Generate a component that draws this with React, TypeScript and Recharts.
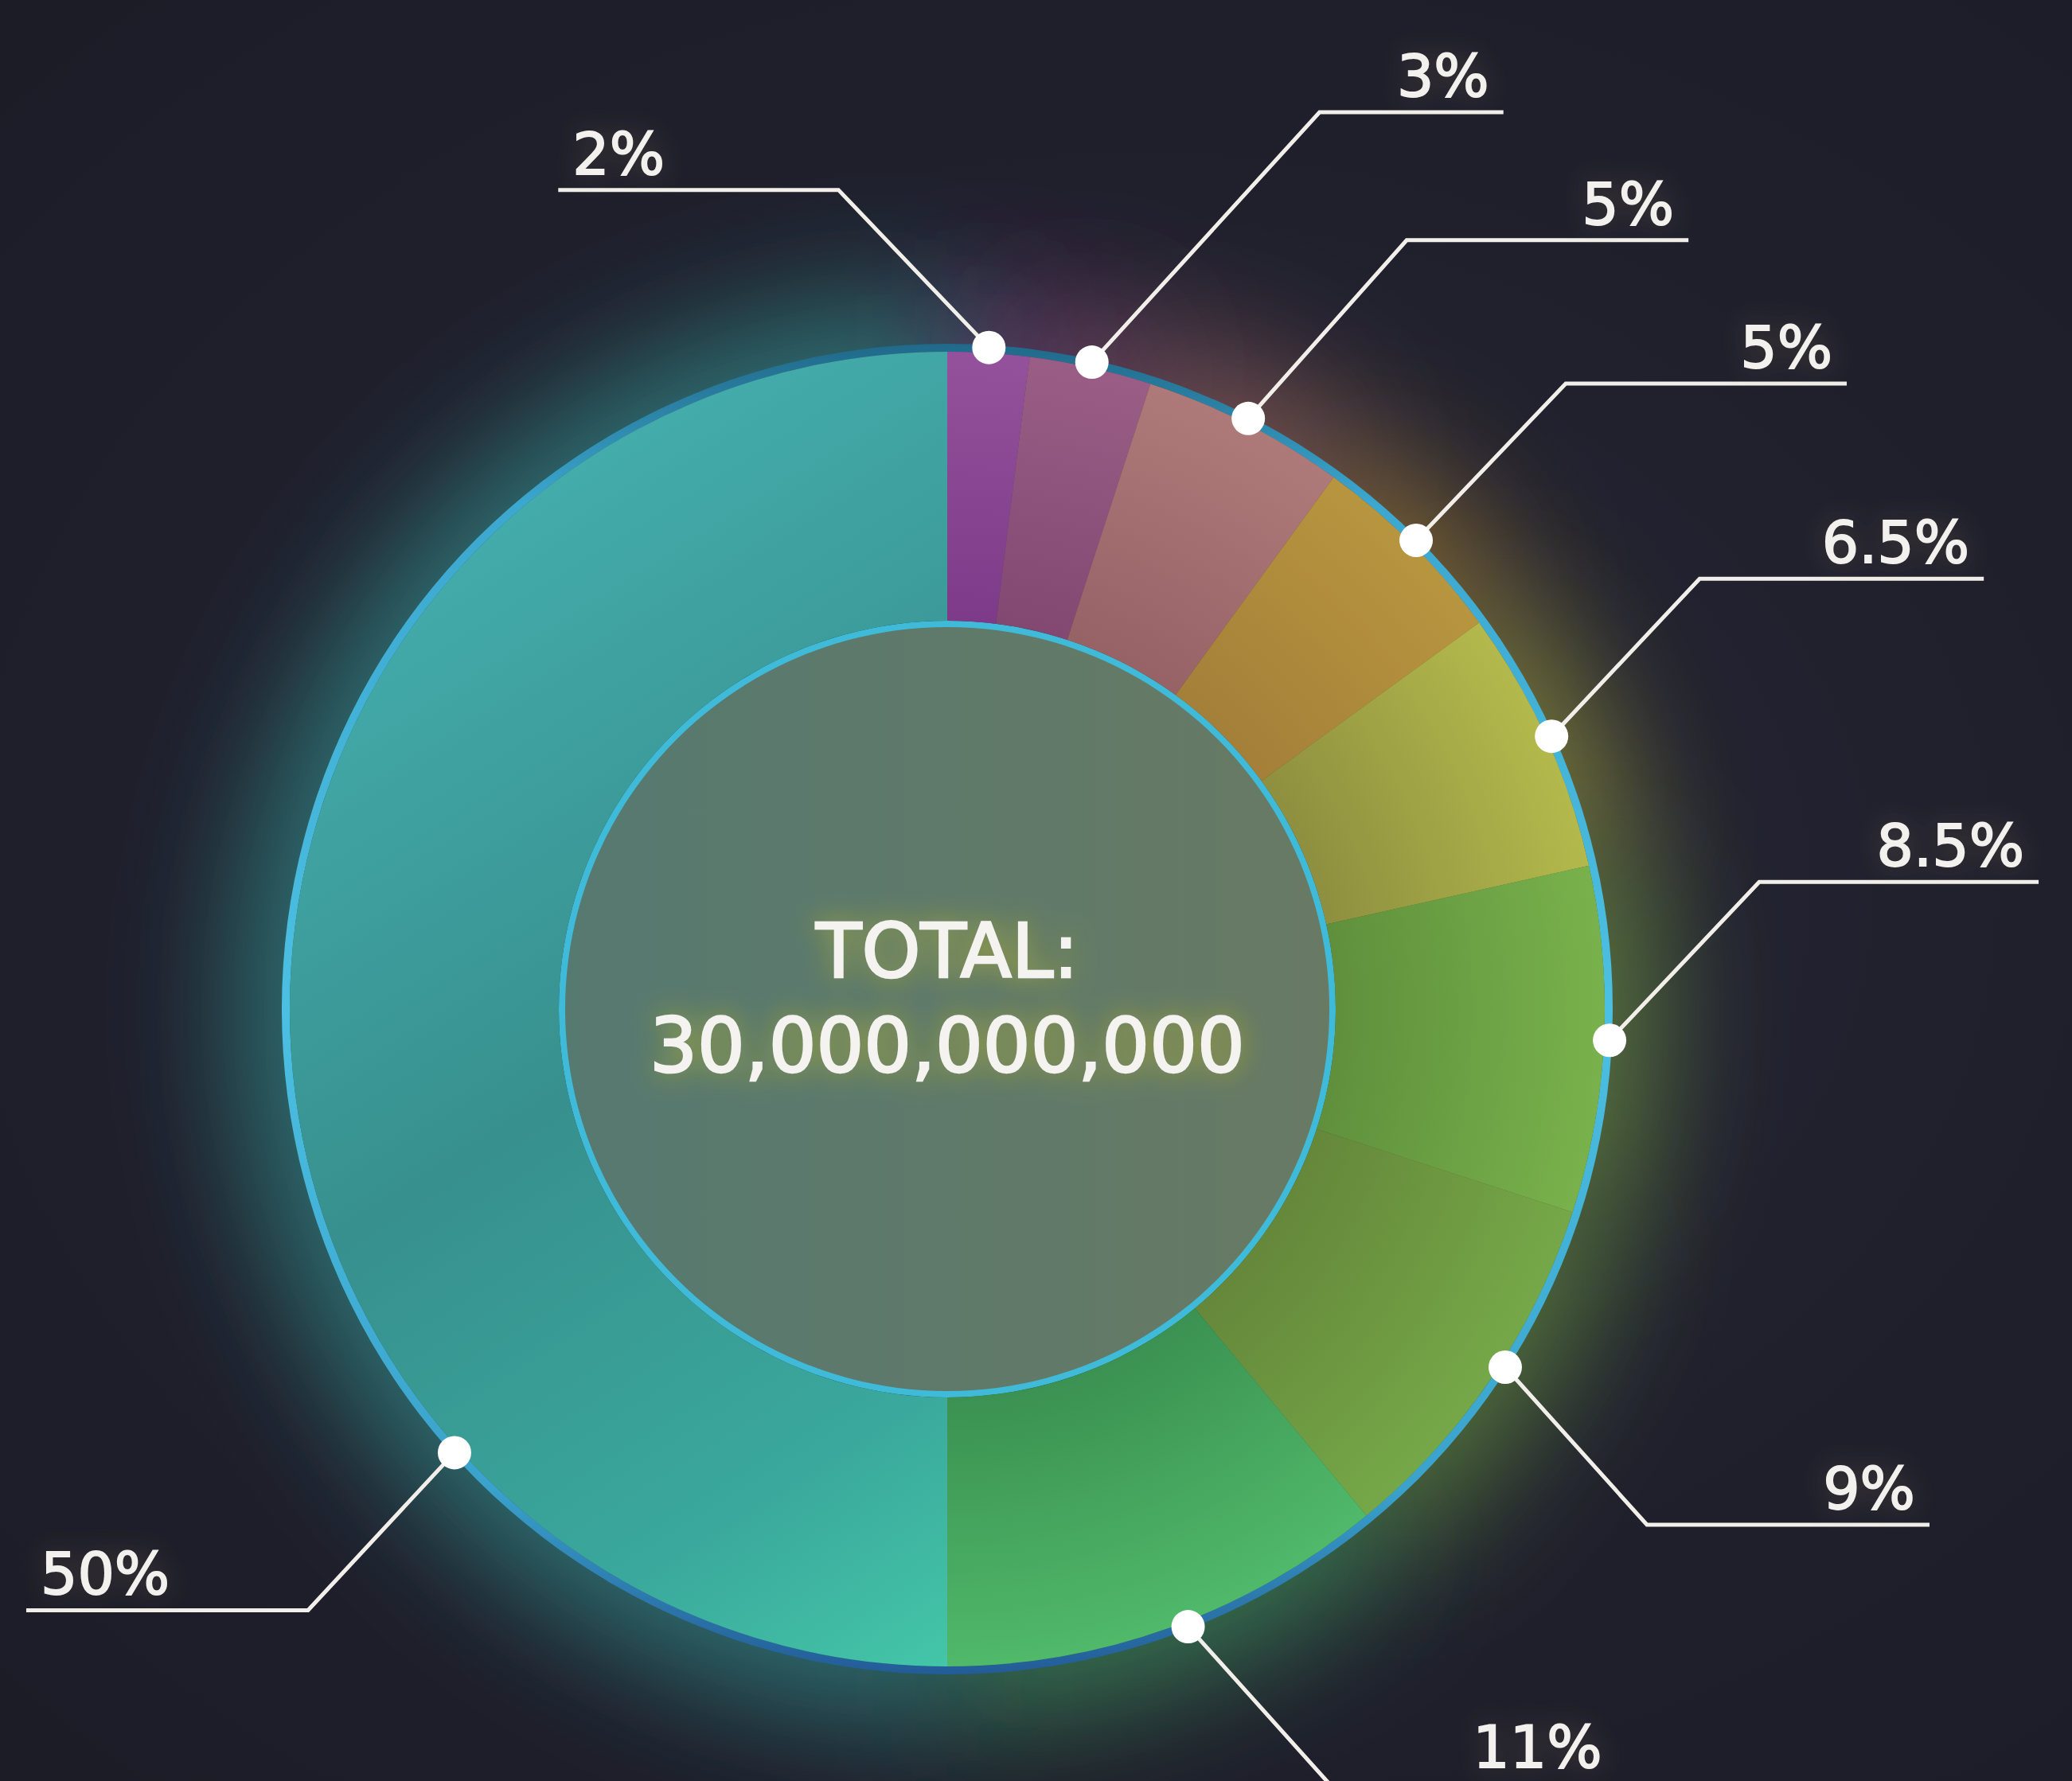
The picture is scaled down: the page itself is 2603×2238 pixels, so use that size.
import { PieChart, Pie, Cell } from "recharts";

// slice shares (percent), clockwise from 12 o'clock
const shares = [2, 3, 5, 5, 6.5, 8.5, 9, 11, 50];
const shareLabels = ["2%", "3%", "5%", "5%", "6.5%", "8.5%", "9%", "11%", "50%"];
const totalCaption = "TOTAL:";
const totalAmount = "30,000,000,000";
const fullRing = [{ value: 1 }];

const data = shares.map((v, i) => ({ name: shareLabels[i], value: v }));

// ---- layout / style ----
const W = 2603;
const H = 2238;
const CX = 1190;
const CY = 1268;
const R_IN = 484;
const R_OUT = 828;
const RAD = Math.PI / 180;

const innerColors = ["#7d3a88", "#824872", "#976266", "#a47f39", "#8e8f3f", "#5f8f3c", "#65873a", "#3b9151"];
const outerColors = ["#94529c", "#9a5e86", "#ae7a79", "#b8953f", "#b4b94c", "#79b24c", "#75a848", "#50b96a"];
const glowColors = ["#a04aa8", "#a45a88", "#c07a70", "#c99a3a", "#c0c040", "#8cc04a", "#7cb848", "#4cc070", "#3ab8b0"];

// leader line per slice: [elbow dx, elbow dy, horizontal run, anchor angle shift]
const leaders = [
  [-189, -198, -352, 0],
  [286, -314, 231, 0],
  [199, -224, 354, 0],
  [188, -197, 353, 0],
  [186, -198, 357, 0],
  [188, -199, 351, 0],
  [178, 198, 355, 1.5],
  [177, 197, 361, 1.5],
  [-184, 198, -354, 42],
];

const font = "'DejaVu Sans', 'Noto Sans', sans-serif";

const renderLeader = (p: any) => {
  const { cx, cy, midAngle, index } = p;
  const [dx, dy, run, shift] = leaders[index];
  const a = (midAngle + shift) * RAD;
  const r = R_OUT + 5;
  const x0 = cx + r * Math.cos(a);
  const y0 = cy - r * Math.sin(a);
  const x1 = x0 + dx;
  const y1 = y0 + dy;
  const x2 = x1 + run;
  const right = run > 0;
  return (
    <g key={`leader-${index}`}>
      <polyline
        points={`${x0},${y0} ${x1},${y1} ${x2},${y1}`}
        fill="none"
        stroke="#f2efea"
        strokeWidth={5}
      />
      <circle cx={x0} cy={y0} r={21} fill="#ffffff" />
      <text
        x={right ? x2 - 18 : x2 + 18}
        y={y1 - 20}
        textAnchor={right ? "end" : "start"}
        fontFamily={font}
        fontSize={73}
        fill="#f3f1ee"
        stroke="#f3f1ee"
        strokeWidth={1.8}
        filter="url(#labelGlow)"
      >
        {shareLabels[index]}
      </text>
    </g>
  );
};

// centre caption, hung on the disc's single label
const renderTotal = (p: any) => {
  const { cx, cy } = p;
  return (
    <g key="total" filter="url(#totalGlow)">
      <text x={cx} y={cy - 40} textAnchor="middle" fontFamily={font} fontSize={94} fill="#f5f3ef" stroke="#f5f3ef" strokeWidth={2.6}>
        {totalCaption}
      </text>
      <text x={cx} y={cy + 79} textAnchor="middle" fontFamily={font} fontSize={94} fill="#f5f3ef" stroke="#f5f3ef" strokeWidth={2.6}>
        {totalAmount}
      </text>
    </g>
  );
};

export default function App() {
  return (
    <div
      style={{
        width: W,
        height: H,
        background: "radial-gradient(ellipse at 55% 50%, #262636 0%, #20202d 55%, #1c1c27 100%)",
      }}
    >
      <style>{`body{margin:0;}`}</style>
      <PieChart width={W} height={H} margin={{ top: 0, right: 0, bottom: 0, left: 0 }}>
        <defs>
          {innerColors.map((c, i) => (
            <radialGradient key={i} id={`slice${i}`} gradientUnits="userSpaceOnUse" cx={CX} cy={CY} r={R_OUT}>
              <stop offset={R_IN / R_OUT} stopColor={c} />
              <stop offset={1} stopColor={outerColors[i]} />
            </radialGradient>
          ))}
          <linearGradient id="slice8" gradientUnits="userSpaceOnUse" x1={CX - R_OUT} y1={CY - R_OUT * 0.6} x2={CX} y2={CY + R_OUT}>
            <stop offset={0} stopColor="#44adac" />
            <stop offset={0.45} stopColor="#37908e" />
            <stop offset={0.8} stopColor="#3aa89c" />
            <stop offset={1} stopColor="#44c6a8" />
          </linearGradient>
          <linearGradient id="ringGrad" x1="0" y1="0" x2="0" y2="1">
            <stop offset={0} stopColor="#20698a" />
            <stop offset={0.12} stopColor="#3ca7cf" />
            <stop offset={0.5} stopColor="#4cc0e2" />
            <stop offset={0.86} stopColor="#3aa2cc" />
            <stop offset={1} stopColor="#235c98" />
          </linearGradient>
          <linearGradient id="discGrad" x1="0" y1="0" x2="1" y2="0">
            <stop offset={0} stopColor="#567970" />
            <stop offset={1} stopColor="#687a64" />
          </linearGradient>
          <filter id="pieGlow" filterUnits="userSpaceOnUse" x={0} y={0} width={W} height={H}>
            <feGaussianBlur stdDeviation={75} />
          </filter>
          <filter id="labelGlow" x="-50%" y="-80%" width="200%" height="260%">
            <feGaussianBlur in="SourceAlpha" stdDeviation={16} result="b" />
            <feFlood floodColor="#8a7a50" floodOpacity={0.35} />
            <feComposite in2="b" operator="in" result="g" />
            <feMerge>
              <feMergeNode in="g" />
              <feMergeNode in="SourceGraphic" />
            </feMerge>
          </filter>
          <filter id="totalGlow" x="-30%" y="-80%" width="160%" height="260%">
            <feGaussianBlur in="SourceAlpha" stdDeviation={16} result="b" />
            <feFlood floodColor="#c8c020" floodOpacity={0.6} />
            <feComposite in2="b" operator="in" result="g" />
            <feMerge>
              <feMergeNode in="g" />
              <feMergeNode in="SourceGraphic" />
            </feMerge>
          </filter>
        </defs>

        {/* soft colored halo behind the donut */}
        <Pie
          data={data}
          dataKey="value"
          cx={CX}
          cy={CY}
          innerRadius={R_IN}
          outerRadius={R_OUT + 70}
          startAngle={90}
          endAngle={-270}
          stroke="none"
          isAnimationActive={false}
        >
          {data.map((_, i) => (
            <Cell key={i} fill={glowColors[i]} fillOpacity={0.5} filter="url(#pieGlow)" />
          ))}
        </Pie>

        {/* outer border ring */}
        <Pie
          data={fullRing}
          dataKey="value"
          cx={CX}
          cy={CY}
          innerRadius={R_OUT - 2}
          outerRadius={R_OUT + 8}
          startAngle={90}
          endAngle={-270}
          stroke="none"
          fill="url(#ringGrad)"
          isAnimationActive={false}
        />

        {/* centre disc, with the total as its label */}
        <Pie
          data={fullRing}
          dataKey="value"
          cx={CX}
          cy={CY}
          innerRadius={0}
          outerRadius={R_IN}
          startAngle={90}
          endAngle={-270}
          stroke="none"
          fill="url(#discGrad)"
          label={renderTotal}
          labelLine={false}
          isAnimationActive={false}
        />
        <Pie
          data={fullRing}
          dataKey="value"
          cx={CX}
          cy={CY}
          innerRadius={R_IN - 4}
          outerRadius={R_IN + 4}
          startAngle={90}
          endAngle={-270}
          stroke="none"
          fill="#3fbad8"
          isAnimationActive={false}
        />

        {/* the shares */}
        <Pie
          data={data}
          dataKey="value"
          cx={CX}
          cy={CY}
          innerRadius={R_IN + 4}
          outerRadius={R_OUT - 2}
          startAngle={90}
          endAngle={-270}
          stroke="none"
          label={renderLeader}
          labelLine={false}
          isAnimationActive={false}
        >
          {data.map((_, i) => (
            <Cell key={i} fill={`url(#slice${i})`} />
          ))}
        </Pie>
      </PieChart>
    </div>
  );
}
